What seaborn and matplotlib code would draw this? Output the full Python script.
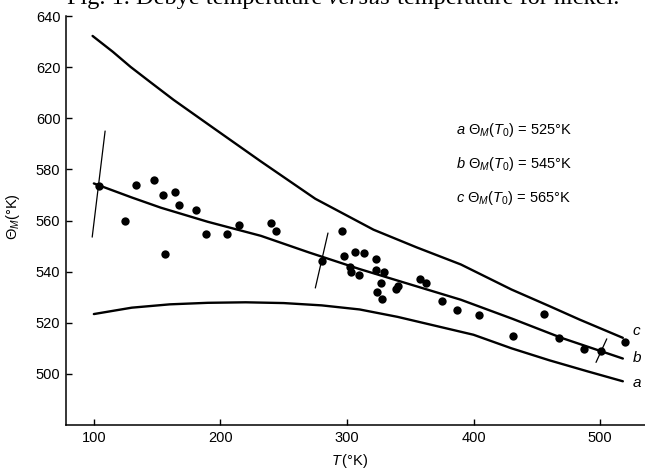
import numpy as np
import pandas as pd
import matplotlib
matplotlib.use("Agg")
import matplotlib.pyplot as plt
import seaborn as sns

sns.set_style("ticks")
plt.rcParams['font.family'] = ['Liberation Sans', 'DejaVu Sans']
plt.rcParams['text.color'] = 'black'
plt.rcParams['axes.labelcolor'] = 'black'
plt.rcParams['mathtext.fontset'] = 'custom'
plt.rcParams['mathtext.rm'] = 'Liberation Sans'
plt.rcParams['mathtext.it'] = 'Liberation Sans:italic'
plt.rcParams['mathtext.bf'] = 'Liberation Sans:bold'

# curves a, b, c  (Theta_M(T0) = 525, 545, 565 K)
curve_a_T = [100, 130, 160, 190, 220, 250, 280, 310, 340, 370, 400, 430, 460, 490, 518]
curve_a_th = [523.4, 525.9, 527.2, 527.8, 528.0, 527.7, 526.8, 525.2, 522.3, 518.8, 515.3, 510.0, 505.3, 501.0, 497.1]

curve_b_T = [100, 130, 153, 190, 232, 270, 310, 350, 390, 431, 470, 518]
curve_b_th = [574.5, 569.0, 565.0, 559.5, 554.0, 547.5, 541.0, 535.0, 529.0, 521.5, 514.0, 506.0]

curve_c_T = [99, 115, 129, 145, 163, 195, 232, 275, 321, 355, 390, 430, 460, 484, 518]
curve_c_th = [632.2, 626.0, 620.1, 614.0, 607.2, 596.0, 583.1, 568.5, 556.4, 549.5, 542.8, 533.0, 526.5, 521.2, 514.1]

# measured points
pt_T = [104, 124.5, 133, 147.5, 154.5, 156, 164, 167, 180.5, 188.5, 205.5, 215,
        240, 244, 280, 296, 297.5, 302.5, 303, 306.5, 309.5, 313.5, 323, 323, 324,
        327, 328, 329.5, 338.5, 340.5, 357.5, 362.5, 375, 387, 404, 431.5, 456,
        467.5, 487, 501, 520]
pt_th = [573.6, 560.0, 573.7, 575.9, 569.8, 547.0, 571.0, 566.1, 564.2, 554.8, 554.7, 558.1,
         559.0, 555.8, 544.0, 555.7, 546.0, 542.0, 539.7, 547.5, 538.7, 547.3, 544.9, 540.7, 531.9,
         535.5, 529.3, 539.7, 533.2, 534.2, 537.1, 535.5, 528.6, 525.1, 523.0, 514.7, 523.5,
         514.1, 509.8, 509.1, 512.5]

# slanted error bars (low end, high end)
err_T_lo = [98.7, 275.0, 496.8]
err_th_lo = [553.5, 533.6, 504.5]
err_T_hi = [108.9, 285.0, 505.3]
err_th_hi = [595.0, 555.1, 513.7]

curve_names = ['a', 'b', 'c']
curve_T0 = [525, 545, 565]

df_curves = pd.concat([
    pd.DataFrame({'T': curve_a_T, 'theta': curve_a_th, 'curve': 'a'}),
    pd.DataFrame({'T': curve_b_T, 'theta': curve_b_th, 'curve': 'b'}),
    pd.DataFrame({'T': curve_c_T, 'theta': curve_c_th, 'curve': 'c'}),
])
df_pts = pd.DataFrame({'T': pt_T, 'theta': pt_th})

fig = plt.figure(figsize=(6.45, 4.69), dpi=100)
ax = fig.add_axes([66 / 645, 1 - 425 / 469, 1 - 66 / 645, (425 - 16) / 469])

sns.lineplot(data=df_curves, x='T', y='theta', hue='curve', units='curve', estimator=None,
             palette=['black'] * 3, linewidth=1.7, legend=False, ax=ax, sort=True)
sns.scatterplot(data=df_pts, x='T', y='theta', color='black', s=36, linewidth=0, ax=ax, zorder=3)

for x0, y0, x1, y1 in zip(err_T_lo, err_th_lo, err_T_hi, err_th_hi):
    ax.plot([x0, x1], [y0, y1], color='black', linewidth=0.9)

ax.set_xlim(78, 535.5)
ax.set_ylim(480, 640)
ax.set_xticks([100, 200, 300, 400, 500])
ax.set_yticks([500, 520, 540, 560, 580, 600, 620, 640])
ax.tick_params(direction='in', length=4.5, width=1.0, labelsize=10.5, pad=4, colors='black')
for s in ['top', 'right']:
    ax.spines[s].set_visible(False)
for s in ['left', 'bottom']:
    ax.spines[s].set_linewidth(1.1)
    ax.spines[s].set_color('black')

ax.set_xlabel(r"$T\,$(°K)", fontsize=10.5)
ax.set_ylabel(r"$\Theta_M$(°K)", fontsize=10.5)
ax.xaxis.set_label_coords(0.49, -0.066)
ax.yaxis.set_label_coords(-0.076, 0.51)

# curve legend text
for i, (nm, t0) in enumerate(zip(curve_names, curve_T0)):
    ax.text(386, 595.4 - i * 13.3, rf"${nm}\ \Theta_M(T_0)$ = {t0}°K", fontsize=10.5, va='center', ha='left')

# curve end labels
ax.text(525.5, 516.6, 'c', fontsize=11, style='italic', va='center', ha='left', clip_on=False)
ax.text(525.5, 506.2, 'b', fontsize=11, style='italic', va='center', ha='left', clip_on=False)
ax.text(525.5, 496.4, 'a', fontsize=11, style='italic', va='center', ha='left', clip_on=False)

# clipped caption at top
fs_cap = 17.5
yb = 1 - 4 / 469
t1 = fig.text(67 / 645, yb, "Fig. 1. Debye temperature ", fontfamily='Liberation Serif',
              fontsize=fs_cap, va='baseline')
fig.canvas.draw()
r = fig.canvas.get_renderer()
x2 = t1.get_window_extent(r).x1 / fig.bbox.width
t2 = fig.text(x2, yb, "versus ", fontfamily='Liberation Serif', style='italic',
              fontsize=fs_cap, va='baseline')
x3 = t2.get_window_extent(r).x1 / fig.bbox.width
fig.text(x3, yb, "temperature for nickel.", fontfamily='Liberation Serif',
         fontsize=fs_cap, va='baseline')

fig.savefig('out.png', dpi=100)
